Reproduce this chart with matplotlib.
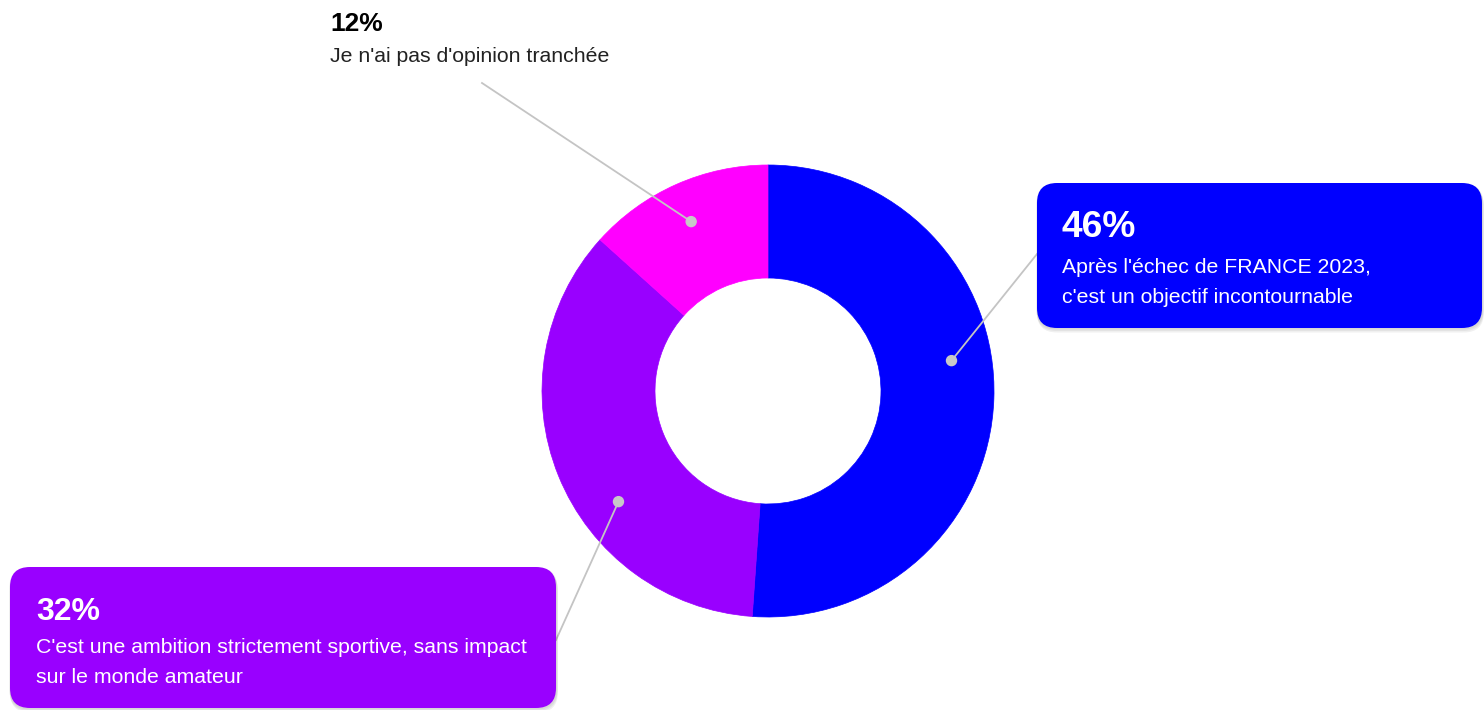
import matplotlib.pyplot as plt
import numpy as np
from matplotlib.patches import FancyBboxPatch, Circle

plt.rcParams['font.family'] = ['Liberation Sans', 'DejaVu Sans']

# data
percents = ['46%', '32%', '12%']
values = [46, 32, 12]
labels = [["Après l'échec de FRANCE 2023,", "c'est un objectif incontournable"],
          ["C'est une ambition strictement sportive, sans impact", "sur le monde amateur"],
          ["Je n'ai pas d'opinion tranchée"]]
colors = ['#0000ff', '#9900ff', '#ff00ff']

W, H = 1484, 710
cx, cy = 768, H - 391
R, ring = 226, 113

fig = plt.figure(figsize=(W / 100, H / 100), dpi=100)
ax = fig.add_axes([0, 0, 1, 1])
wedges, _ = ax.pie(values, colors=colors, startangle=90, counterclock=False,
                   center=(cx, cy), radius=R,
                   wedgeprops=dict(width=ring, linewidth=0.5))
for w, c in zip(wedges, colors):
    w.set_edgecolor(c)
ax.set_xlim(0, W)
ax.set_ylim(0, H)
ax.set_aspect('equal')
ax.axis('off')

def Y(y):
    return H - y

# leader lines: anchor angle on the ring (clockwise from top) and end point (pixels, top origin)
anchor_ang = [80.6, 233.5, 335.6]
anchor_r = 186
line_end = [(1037, 254), (556, 640), (482, 83)]
for a, (ex, ey) in zip(anchor_ang, line_end):
    t = np.radians(a)
    px, py = cx + anchor_r * np.sin(t), cy + anchor_r * np.cos(t)
    ax.plot([px, ex], [py, Y(ey)], color='#c4c4c4', lw=1.3, zorder=3)
    ax.add_patch(Circle((px, py), 5, color='#c8c8c8', zorder=4))

# boxes for the first two labels (x0, y0, x1, y1 in pixels, top origin)
boxes = [(1037, 183, 1482, 328), (10, 567, 556, 708)]
for (x0, y0, x1, y1), c in zip(boxes, colors[:2]):
    for k, al in enumerate([0.05, 0.05, 0.06]):
        d = 1 + k
        ax.add_patch(FancyBboxPatch((x0 - 1 + d * 0.3, Y(y1) - d * 1.5), x1 - x0 + 2, y1 - y0 + 1,
                                    boxstyle='round,pad=0,rounding_size=20',
                                    fc='black', ec='none', alpha=al, zorder=4))
    ax.add_patch(FancyBboxPatch((x0, Y(y1)), x1 - x0, y1 - y0,
                                boxstyle='round,pad=0,rounding_size=20',
                                fc=c, ec='none', zorder=5))

# texts: x, baseline of percent, baseline of first body line, colour, size of percent
txt = [(1062, 237, 273, 'white', 26.7),
       (36, 620, 653, 'white', 23),
       (330, 31, 62, 'black', 19)]
for (x, yp, yb, col, fs), p, lines in zip(txt, percents, labels):
    ax.text(x, Y(yp), p, color=col, fontsize=fs, fontweight='bold', va='baseline', zorder=6)
    for i, ln in enumerate(lines):
        ax.text(x, Y(yb + 30 * i), ln, color=col if col == 'white' else '#222222',
                fontsize=15.3, va='baseline', zorder=6)

fig.savefig('out.png', dpi=100)
